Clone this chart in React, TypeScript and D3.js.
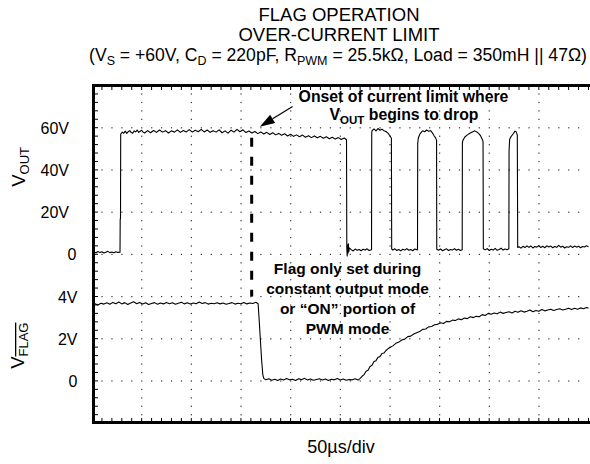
import React from "react";
import * as d3 from "d3";

// ---------- data (time in µs, 50 µs/div; voltages in V) ----------
const TIME_DOMAIN = [0, 500];
const VOUT_DOMAIN = [0, 80];
const FLAG_DOMAIN = [-2, 6];

const VOUT_TICKS = [0, 20, 40, 60];
const VOUT_TICK_LABELS = ["0", "20V", "40V", "60V"];
const FLAG_TICKS = [0, 2, 4];
const FLAG_TICK_LABELS = ["0", "2V", "4V"];

const VOUT_START: [number, number][] = [
  [0, 0.9], [2, 1.1], [4, 0.7], [6, 1.3], [8, 0.8], [10, 1.2], [12, 0.6], [14, 1.0], [16, 1.4], [18, 0.8],
  [20, 1.1], [22, 0.7], [24, 1.2], [26, 0.9], [28.2, 1.0], [28.4, 16.5], [28.7, 17], [28.9, 56.8],
];
const VOUT_HIGH: [number, number][] = [
  [29, 57.0], [30.5, 57.9], [32, 57.4], [33.5, 58.4], [35, 57.3], [36.5, 58.1], [38, 58.6], [39.5, 57.7],
  [41, 57.4], [42.5, 58.5], [44, 58.0], [45.5, 58.9], [47, 57.8], [48.5, 58.3], [50, 58.8], [51.5, 57.9],
  [53, 57.5], [56, 58.6], [59, 57.6], [62, 58.7], [65, 57.8], [68, 58.9], [71, 57.9], [74, 58.6], [77, 57.5],
  [80, 58.5], [83, 57.9], [86, 59.0], [89, 57.8], [92, 58.7], [95, 58.0], [98, 59.1], [101, 57.9], [104, 58.8],
  [107, 58.1], [110, 59.2], [113, 58.0], [116, 58.9], [119, 57.8], [122, 58.6], [125, 57.9], [128, 59.0],
  [131, 57.6], [134, 58.5], [137, 57.4], [140, 58.8], [143, 57.9], [146, 59.2], [149, 58.1], [152, 59.0],
  [155, 57.7], [158, 58.4], [161, 57.5], [164, 58.2], [167, 57.2], [170, 58.0], [173, 57.0], [176, 57.8],
  [179, 56.8], [182, 57.6], [185, 56.6], [188, 57.3], [191, 56.4], [194, 57.1], [197, 56.1], [200, 56.9],
  [203, 55.9], [206, 56.6], [209, 55.7], [212, 56.5], [215, 55.5], [218, 56.2], [221, 55.3], [224, 56.1],
  [227, 55.2], [230, 55.9], [233, 55.0], [236, 55.7], [239, 54.8], [242, 55.5], [245, 54.6], [248, 55.3],
  [251, 54.4], [254, 55.1], [256.3, 54.3],
];
const VOUT_PWM: [number, number][] = [
  [256.6, 3], [257.0, -0.8], [257.4, 4.5], [257.8, 0.5], [258.2, 5], [258.6, 1.2], [259.2, 3.0],
  [261, 2.2], [263, 1.6], [265, 2.5], [267, 1.9], [269, 2.3], [271, 1.7], [273, 2.4], [275, 2.0], [277, 2.6],
  [279, 1.8], [281.5, 2.2],
  [281.7, 57.5], [282, 58.6], [284, 59.4], [286, 58.5], [288, 59.6], [290, 58.8], [292, 59.3], [294, 58.6],
  [296, 58.2], [298, 57.4], [300, 56.2], [301.5, 55.0], [301.8, 2.5],
  [303, 2.0], [305, 2.6], [307, 1.8], [309, 2.3], [311, 1.6], [313, 2.4], [315, 2.0], [317, 2.7], [319, 1.9],
  [321, 2.3], [323, 1.7], [325, 2.5], [327.8, 2.1],
  [328, 52.5], [328.6, 55.0], [330, 56.8], [331.5, 57.8], [333, 58.5], [335, 58.1], [337, 58.9], [339, 58.3],
  [341, 58.6], [343, 57.4], [344.5, 56.2], [346, 55.2], [347, 54.0], [347.2, 2.4],
  [349, 1.9], [351, 2.5], [353, 1.7], [355, 2.2], [357, 2.6], [359, 1.8], [361, 2.3], [363, 2.0], [365, 2.7],
  [367, 1.9], [369, 2.4], [371, 1.8], [372.8, 2.2],
  [373, 52.8], [373.5, 54.0], [375.5, 55.6], [378, 56.6], [380.5, 57.4], [383, 58.0], [385.5, 58.5],
  [387.5, 58.0], [389.5, 57.2], [391, 56.4], [392.5, 55.0], [393.8, 53.5], [394.1, 2.6],
  [396, 2.1], [398, 2.7], [400, 1.8], [402, 2.4], [404, 2.0], [406, 2.8], [408, 1.9], [410, 2.3], [412, 2.9],
  [414, 2.0], [416, 2.5], [418, 2.2], [419.8, 2.6],
  [420, 49.0], [420.6, 54.5], [422, 55.8], [424, 57.0], [426, 58.4], [427.2, 58.0], [428.3, 56.5], [428.7, 3.2],
  [430, 3.6], [432, 2.9], [434, 3.8], [436, 3.2], [438, 4.0], [440, 3.3], [442, 3.9], [444, 3.0], [446, 3.7],
  [448, 3.4], [450, 4.1], [452, 3.2], [454, 3.8], [456, 3.1], [458, 4.0], [460, 3.5], [462, 3.9], [464, 3.1],
  [466, 3.7], [468, 3.3], [470, 4.2], [472, 3.4], [474, 3.8], [476, 3.0], [478, 3.6], [480, 3.3], [482, 4.0],
  [484, 3.2], [486, 3.9], [488, 3.4], [490, 3.8], [492, 3.1], [494, 3.7], [496, 3.5], [498, 4.0], [500, 3.6],
];

const FLAG_HIGH: [number, number][] = [
  [0, 3.62], [3, 3.66], [6, 3.60], [9, 3.68], [12, 3.64], [15, 3.70], [18, 3.63], [21, 3.72], [24, 3.66],
  [27, 3.74], [30, 3.65], [33, 3.71], [36, 3.62], [39, 3.69], [42, 3.75], [45, 3.66], [48, 3.72], [51, 3.64],
  [54, 3.70], [57, 3.62], [60, 3.67], [63, 3.71], [66, 3.63], [69, 3.69], [72, 3.65], [75, 3.72], [78, 3.66],
  [81, 3.70], [84, 3.63], [87, 3.68], [90, 3.73], [93, 3.65], [96, 3.70], [99, 3.64], [102, 3.69], [105, 3.66],
  [108, 3.74], [111, 3.67], [114, 3.71], [117, 3.64], [120, 3.68], [123, 3.66], [126, 3.70], [129, 3.65],
  [132, 3.69], [135, 3.63], [138, 3.67], [141, 3.71], [144, 3.64], [147, 3.68], [150, 3.66], [153, 3.72],
  [156, 3.65], [159, 3.69], [162, 3.67], [165, 3.73], [167.3, 3.66],
];
const FLAG_LOW: [number, number][] = [
  [168.2, 3.0], [169.5, 2.0], [170.8, 1.0], [172, 0.3], [173, 0.12],
  [175, 0.05], [178, 0.10], [181, 0.03], [184, 0.08], [187, 0.02], [190, 0.09], [193, 0.04], [196, 0.11],
  [199, 0.05], [202, 0.08], [205, 0.02], [208, 0.10], [211, 0.06], [214, 0.12], [217, 0.04], [220, 0.09],
  [223, 0.03], [226, 0.07], [229, 0.10], [232, 0.04], [235, 0.09], [238, 0.02], [241, 0.08], [244, 0.05],
  [247, 0.11], [250, 0.04], [253, 0.09], [256, 0.03], [259, 0.07], [262, 0.05], [265, 0.10], [268, 0.04],
];
const FLAG_RISE: [number, number][] = [
  [270, 0.12], [272, 0.22], [274, 0.30], [276, 0.46], [278, 0.50], [280, 0.68], [282, 0.74], [284, 0.92],
  [286, 0.96], [288, 1.12], [290, 1.15], [292, 1.30], [294, 1.32], [296, 1.44], [298, 1.52], [300, 1.58],
  [303, 1.66], [306, 1.78], [309, 1.84], [312, 1.94], [315, 1.98], [318, 2.10], [321, 2.12], [324, 2.22],
  [327, 2.28], [330, 2.34], [333, 2.44], [336, 2.46], [339, 2.56], [342, 2.58], [345, 2.66], [348, 2.68],
  [351, 2.76], [354, 2.72], [357, 2.82], [360, 2.80], [363, 2.88], [366, 2.86], [369, 2.94], [372, 2.90],
  [375, 2.98], [378, 2.95], [381, 3.04], [384, 3.00], [387, 3.06], [390, 3.04], [393, 3.14], [396, 3.10],
  [399, 3.20], [402, 3.16], [405, 3.22], [408, 3.18], [411, 3.26], [414, 3.20], [417, 3.24], [420, 3.28],
  [423, 3.22], [426, 3.30], [429, 3.25], [432, 3.32], [435, 3.26], [438, 3.30], [441, 3.36], [444, 3.28],
  [447, 3.34], [450, 3.30], [453, 3.38], [456, 3.32], [459, 3.36], [462, 3.40], [465, 3.34], [468, 3.38],
  [471, 3.42], [474, 3.36], [477, 3.40], [480, 3.44], [483, 3.38], [486, 3.44], [489, 3.40], [492, 3.46],
  [495, 3.42], [498, 3.48], [500, 3.44],
];

// annotation anchors (data units)
const ONSET_TIME = 160.8;
const ONSET_TOP_V = 55.2;
const ONSET_BOTTOM_FLAG = 4.0;
const ARROW_FROM: [number, number] = [202, 70];
const ARROW_TO: [number, number] = [169, 60.5];

// ---------- layout ----------
const W = 590;
const H = 464;
const FONT = "'Liberation Sans', Arial, Helvetica, sans-serif";
const PLOT_L = 92;
const PLOT_R = 588.5;
const PLOT_T = 85.5;
const PLOT_B = 423.1;
const MID = 254.3;

const x = d3.scaleLinear().domain(TIME_DOMAIN).range([PLOT_L, PLOT_R]);
const yOut = d3.scaleLinear().domain(VOUT_DOMAIN).range([MID, PLOT_T]);
const yFlag = d3.scaleLinear().domain(FLAG_DOMAIN).range([PLOT_B, MID]);
const yDiv = d3.scaleLinear().domain([0, 8]).range([PLOT_T, PLOT_B]);
const xDiv = d3.scaleLinear().domain([0, 10]).range([PLOT_L, PLOT_R]);

const lineOut = d3.line<[number, number]>().x((d) => x(d[0])).y((d) => yOut(d[1]));
const lineFlag = d3.line<[number, number]>().x((d) => x(d[0])).y((d) => yFlag(d[1]));

export default function App() {
  const vout = [...VOUT_START, ...VOUT_HIGH, ...VOUT_PWM];
  const flag = [...FLAG_HIGH, ...FLAG_LOW, ...FLAG_RISE];

  const dots: JSX.Element[] = [];
  for (let i = 1; i < 10; i++) {
    for (let k = 1; k < 40; k++) {
      dots.push(<rect key={`v${i}-${k}`} x={xDiv(i) - 0.5} y={yDiv(k / 5) - 0.5} width={1.2} height={1.2} fill="#333" />);
    }
  }
  for (let j = 1; j < 8; j++) {
    for (let k = 1; k < 50; k++) {
      if (k % 5 === 0) continue;
      dots.push(<rect key={`h${j}-${k}`} x={xDiv(k / 5) - 0.5} y={yDiv(j) - 0.5} width={1.2} height={1.2} fill="#333" />);
    }
  }
  const ticks: JSX.Element[] = [];
  for (let k = 1; k < 51; k++) {
    const xx = xDiv(k / 5);
    ticks.push(<line key={`tt${k}`} x1={xx} x2={xx} y1={86} y2={90} stroke="#000" strokeWidth={1} />);
    ticks.push(<line key={`tb${k}`} x1={xx} x2={xx} y1={422} y2={418} stroke="#000" strokeWidth={1} />);
  }
  for (let k = 1; k < 40; k++) {
    const yy = yDiv(k / 5);
    ticks.push(<line key={`tl${k}`} x1={94} x2={98} y1={yy} y2={yy} stroke="#000" strokeWidth={1} />);
  }

  // arrow geometry
  const ax0 = x(ARROW_FROM[0]);
  const ay0 = yOut(ARROW_FROM[1]);
  const ax1 = x(ARROW_TO[0]);
  const ay1 = yOut(ARROW_TO[1]);
  const len = Math.hypot(ax1 - ax0, ay1 - ay0);
  const ux = (ax1 - ax0) / len;
  const uy = (ay1 - ay0) / len;
  const headL = 15;
  const headW = 4.8;
  const bx = ax1 - ux * headL;
  const by = ay1 - uy * headL;
  const head = `${ax1},${ay1} ${bx - uy * headW},${by + ux * headW} ${bx + uy * headW},${by - ux * headW}`;

  return (
    <svg width={W} height={H} style={{ position: "absolute", left: 0, top: 0, background: "#fff" }} fontFamily={FONT}>
      <rect width={W} height={H} fill="#fff" />
      {/* titles */}
      <g textAnchor="middle" fontSize={18.5} fill="#000">
        <text x={339} y={21}>FLAG OPERATION</text>
        <text x={339} y={41}>OVER-CURRENT LIMIT</text>
        <text x={338} y={61} fontSize={17.6}>
          (V<tspan dy={4} fontSize={12.5}>S</tspan>
          <tspan dy={-4}> = +60V, C</tspan>
          <tspan dy={4} fontSize={12.5}>D</tspan>
          <tspan dy={-4}> = 220pF, R</tspan>
          <tspan dy={4} fontSize={12.5}>PWM</tspan>
          <tspan dy={-4}> = 25.5kΩ, Load = 350mH || 47Ω)</tspan>
        </text>
      </g>

      {dots}
      {ticks}

      <defs>
        <clipPath id="plotclip">
          <rect x={PLOT_L} y={PLOT_T} width={W - PLOT_L} height={PLOT_B - PLOT_T} />
        </clipPath>
      </defs>
      <g clipPath="url(#plotclip)" fill="none" stroke="#000" strokeWidth={1.1} strokeLinejoin="round">
        <path d={lineOut(vout) || ""} />
        <path d={lineFlag(flag) || ""} />
      </g>

      {/* frame */}
      <path d={`M${W},${PLOT_T} H${PLOT_L + 1.5} V${PLOT_B - 0.6} H${W}`} fill="none" stroke="#000" strokeWidth={3} />

      {/* dashed onset line */}
      <line
        x1={x(ONSET_TIME)}
        x2={x(ONSET_TIME)}
        y1={yOut(ONSET_TOP_V)}
        y2={yFlag(ONSET_BOTTOM_FLAG)}
        stroke="#000"
        strokeWidth={3}
        strokeDasharray="9 10"
      />

      {/* arrow */}
      <line x1={ax0} y1={ay0} x2={bx} y2={by} stroke="#000" strokeWidth={1.2} />
      <polygon points={head} fill="#000" />

      {/* annotations */}
      <g textAnchor="middle" fontSize={15.5} fontWeight="bold" fill="#000">
        <text x={403.5} y={102.3} fontSize={15.8}>Onset of current limit where</text>
        <text x={404} y={120} fontSize={15.8}>
          V<tspan dy={4} fontSize={11.5}>OUT</tspan>
          <tspan dy={-4}> begins to drop</tspan>
        </text>
        <text x={347.5} y={274}>Flag only set during</text>
        <text x={347.5} y={294}>constant output mode</text>
        <text x={347.5} y={313.5}>or “ON” portion of</text>
        <text x={347.5} y={333.5}>PWM mode</text>
      </g>

      {/* tick labels */}
      <g fontSize={16} fill="#000" textAnchor="end">
        {VOUT_TICKS.map((v, i) => (
          <text key={`vo${v}`} x={VOUT_TICK_LABELS[i].endsWith("V") ? 69 : 76.5} y={yOut(v) + 6}>
            {VOUT_TICK_LABELS[i]}
          </text>
        ))}
        {FLAG_TICKS.map((v, i) => (
          <text key={`fl${v}`} x={77.5} y={yFlag(v) + 6}>
            {FLAG_TICK_LABELS[i]}
          </text>
        ))}
      </g>

      {/* axis titles */}
      <text transform={`translate(25,${yOut(40) - 3}) rotate(-90)`} textAnchor="middle" fontSize={18.5} fill="#000">
        V<tspan dy={4} fontSize={13}>OUT</tspan>
      </text>
      <text transform={`translate(24,${yFlag(2) + 7}) rotate(-90)`} textAnchor="middle" fontSize={18.5} fill="#000">
        V<tspan dy={4} fontSize={13} style={{ textDecoration: "overline" }}>FLAG</tspan>
      </text>

      <text x={341} y={453} textAnchor="middle" fontSize={18} fill="#000">
        50µs/div
      </text>
    </svg>
  );
}
